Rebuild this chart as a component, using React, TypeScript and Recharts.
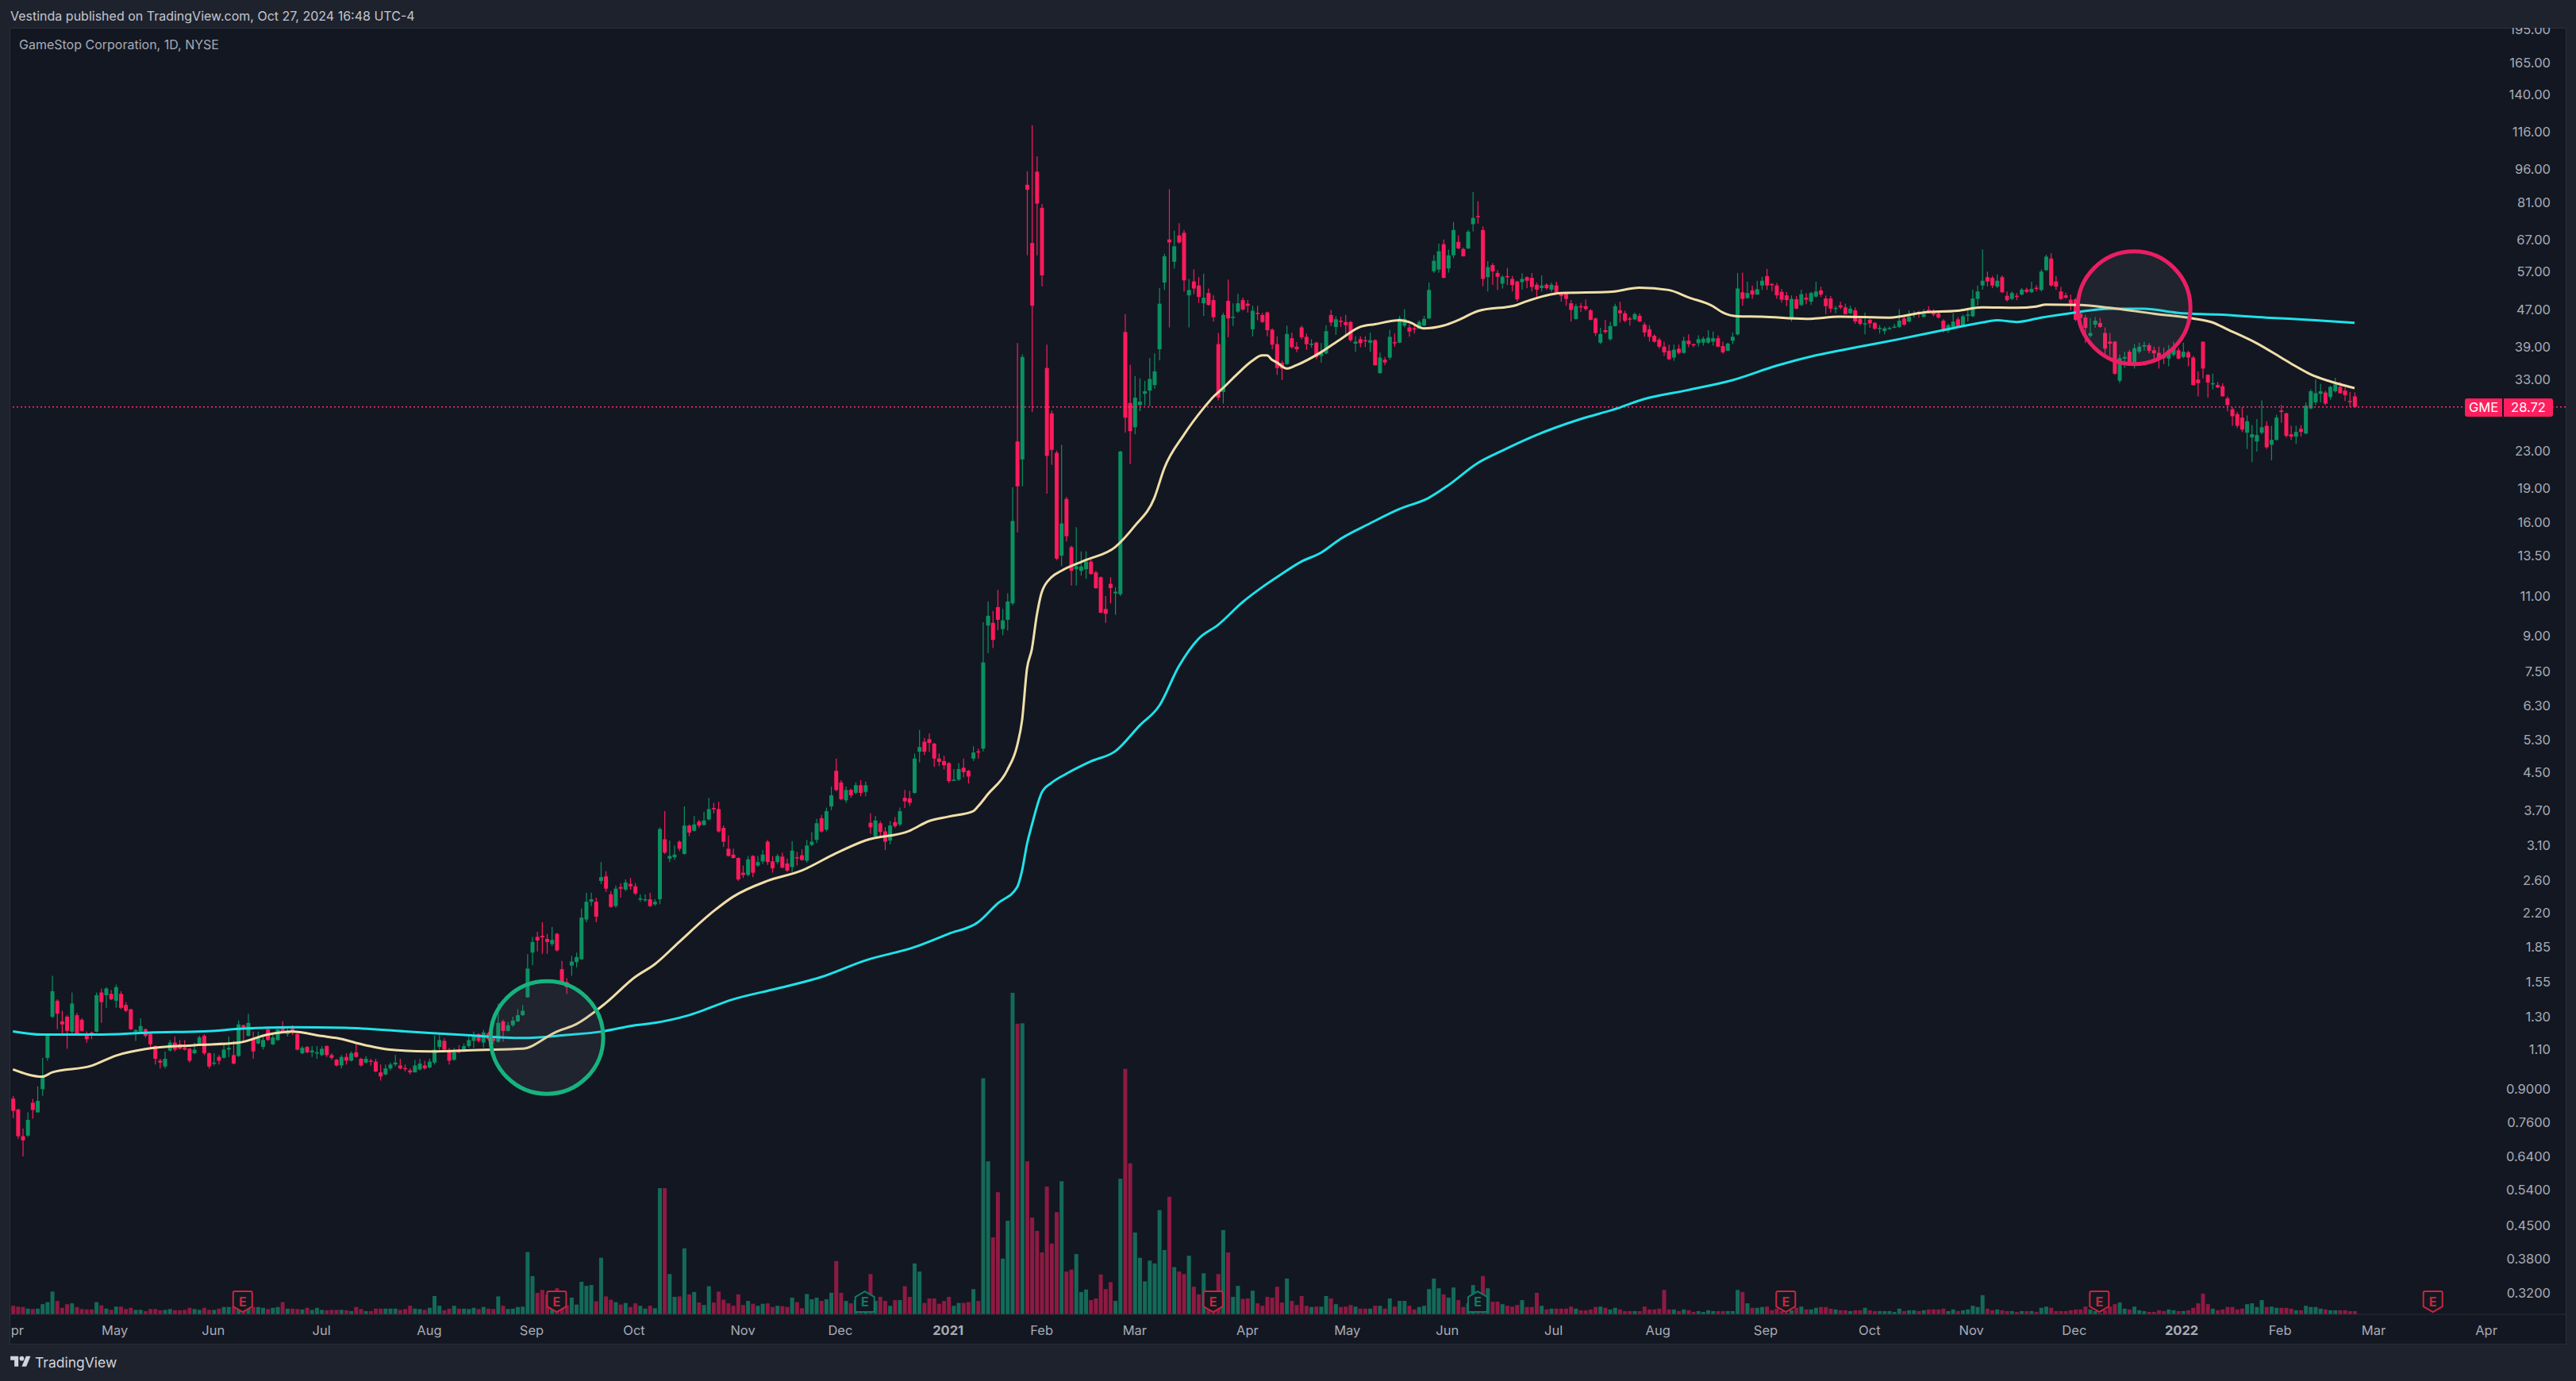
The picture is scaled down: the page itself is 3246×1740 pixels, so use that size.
import { ComposedChart, Bar, Line, XAxis, YAxis, ReferenceLine, ReferenceDot } from 'recharts';

// [open, high, low, close]
const candlesSpring2020 = [
  [.858,.87,.777,.806],[.812,.815,.70,.709],[.709,.737,.64,.694],[.711,.80,.706,.77],[.84,.857,.775,.81],
  [.80,.913,.80,.848],[.90,1.055,.87,.96],[1.055,1.19,1.04,1.18],[1.30,1.60,1.29,1.48],[1.41,1.42,1.22,1.32],
  [1.27,1.34,1.19,1.25],[1.30,1.31,1.105,1.21],[1.205,1.47,1.19,1.39],[1.31,1.325,1.18,1.19],[1.28,1.29,1.205,1.21],
  [1.18,1.205,1.14,1.16],[1.20,1.205,1.16,1.195],[1.205,1.47,1.20,1.45],[1.47,1.50,1.26,1.40],[1.45,1.51,1.36,1.50],
  [1.46,1.49,1.415,1.42],[1.41,1.53,1.36,1.51],[1.46,1.48,1.35,1.36],[1.38,1.40,1.33,1.34],[1.35,1.354,1.215,1.22],
  [1.205,1.22,1.15,1.215],[1.205,1.29,1.195,1.24],[1.22,1.225,1.17,1.18],[1.19,1.20,1.11,1.13],[1.12,1.125,1.02,1.05],
  [1.04,1.05,1.0,1.03],[1.01,1.09,1.0,1.05],[1.095,1.155,1.09,1.14],[1.14,1.175,1.09,1.10],[1.13,1.155,1.10,1.105],
  [1.11,1.155,1.095,1.10],[1.105,1.11,1.03,1.04],[1.08,1.14,1.075,1.10],[1.135,1.18,1.13,1.17],[1.18,1.19,1.07,1.08],
  [1.08,1.085,1.0,1.01],[1.025,1.08,1.015,1.03],[1.06,1.07,1.02,1.04],[1.056,1.13,1.05,1.10],[1.10,1.175,1.06,1.11],
  [1.07,1.15,1.02,1.025],[1.065,1.275,1.06,1.25],[1.245,1.25,1.14,1.23],[1.18,1.32,1.175,1.26],[1.165,1.205,1.05,1.09],
  [1.135,1.205,1.13,1.17],[1.115,1.175,1.10,1.155],[1.22,1.225,1.15,1.155],[1.13,1.19,1.125,1.17],[1.155,1.22,1.15,1.22],
  [1.235,1.27,1.20,1.205],[1.19,1.225,1.175,1.21],[1.225,1.245,1.185,1.205],[1.19,1.195,1.095,1.10],[1.08,1.12,1.075,1.11],
  [1.115,1.12,1.08,1.085],[1.085,1.12,1.06,1.095],[1.08,1.12,1.05,1.085],[1.07,1.12,1.065,1.105],[1.12,1.125,1.06,1.07],
  [1.07,1.08,1.045,1.055],[1.045,1.05,1.01,1.015],[1.015,1.07,1.0,1.06],[1.06,1.08,1.02,1.04],[1.04,1.09,1.035,1.08],
  [1.085,1.13,1.055,1.06],[1.05,1.055,1.01,1.015],[1.03,1.065,1.025,1.05],[1.04,1.05,1.015,1.035],[1.035,1.05,.98,.985],
  [.98,1.02,.94,.96],[.97,1.02,.965,1.0],[1.0,1.03,.99,1.02],[1.02,1.07,1.01,1.03],[1.015,1.05,.995,1.0],
  [1.002,1.02,.985,1.0],[.99,1.0,.97,.98],[.98,1.045,.98,1.015],[.995,1.05,.99,1.025],[1.015,1.04,.995,1.0],
  [1.005,1.05,1.0,1.035],[1.03,1.18,1.02,1.10],[1.115,1.19,1.10,1.155],[1.15,1.165,1.09,1.10],[1.09,1.11,1.02,1.04],
  [1.045,1.11,1.04,1.085],[1.10,1.125,1.08,1.085],[1.09,1.135,1.085,1.12],[1.12,1.175,1.11,1.155],[1.15,1.205,1.11,1.18],
  [1.19,1.195,1.14,1.15],[1.14,1.215,1.11,1.20],[1.195,1.205,1.15,1.16],[1.165,1.175,1.13,1.15],[1.145,1.39,1.14,1.26],
  [1.27,1.28,1.145,1.21],[1.21,1.265,1.205,1.245],[1.245,1.30,1.235,1.275],[1.27,1.35,1.265,1.31],[1.31,1.38,1.305,1.34],
  [1.435,1.785,1.43,1.66],[1.80,1.95,1.69,1.90],[1.95,2.0,1.81,1.915],[1.96,2.10,1.79,1.945],[1.93,1.98,1.79,1.90],
  [1.88,2.05,1.86,1.92],[1.98,1.99,1.81,1.82],[1.655,1.725,1.54,1.545],[1.55,1.58,1.46,1.51],[1.685,1.77,1.60,1.72],
  [1.715,1.80,1.67,1.76],[1.74,2.25,1.735,2.15],[2.13,2.44,2.10,2.33],[2.33,2.44,2.28,2.36],[2.33,2.38,2.1,2.16],
  [2.59,2.85,2.55,2.64],[2.65,2.72,2.45,2.49],[2.42,2.46,2.26,2.27],[2.28,2.53,2.26,2.49],[2.51,2.56,2.38,2.49],
  [2.48,2.61,2.46,2.57],[2.55,2.63,2.48,2.52],[2.52,2.56,2.41,2.43],
];

const candlesFall2020 = [
  [2.36,2.42,2.33,2.37],[2.35,2.42,2.33,2.36],[2.36,2.44,2.27,2.28],[2.30,2.36,2.28,2.33],[2.36,3.40,2.30,3.37],
  [3.20,3.69,2.97,2.99],[2.90,3.18,2.85,2.94],[2.92,3.10,2.88,2.96],[3.16,3.18,3.01,3.05],[2.97,3.78,2.96,3.43],
  [3.43,3.45,3.25,3.31],[3.34,3.60,3.33,3.45],[3.50,3.53,3.39,3.43],[3.44,3.68,3.43,3.52],[3.54,3.95,3.52,3.73],
  [3.75,3.85,3.65,3.73],[3.73,3.87,3.31,3.33],[3.39,3.43,3.08,3.16],[3.05,3.26,2.93,2.94],[2.96,3.05,2.90,2.91],
  [2.91,2.92,2.59,2.61],[2.70,2.80,2.63,2.67],[2.67,2.94,2.65,2.89],[2.94,2.95,2.64,2.70],[2.80,2.94,2.78,2.85],
  [2.86,3.03,2.82,2.96],[3.16,3.19,2.81,2.85],[2.86,2.94,2.70,2.76],[2.85,2.97,2.82,2.94],[2.93,2.99,2.76,2.77],
  [2.83,2.90,2.71,2.73],[2.78,3.17,2.71,3.02],[2.92,3.0,2.80,2.91],[2.95,3.04,2.87,2.88],[2.87,3.19,2.84,3.10],
  [3.11,3.32,3.09,3.16],[3.19,3.55,3.14,3.47],[3.56,3.62,3.31,3.33],[3.36,3.76,3.33,3.69],[3.78,4.18,3.71,4.0],
  [4.53,4.82,4.08,4.11],[4.27,4.32,3.90,3.92],[3.90,4.18,3.85,4.11],[4.11,4.14,3.95,4.0],[4.05,4.27,4.02,4.21],
  [4.21,4.32,3.98,4.05],[4.07,4.29,3.98,4.21],[3.48,3.65,3.29,3.40],[3.25,3.60,3.23,3.52],[3.47,3.51,3.24,3.32],
  [3.33,3.40,3.03,3.16],[3.18,3.51,3.12,3.43],[3.49,3.58,3.39,3.42],[3.45,3.76,3.42,3.69],[3.95,4.11,3.75,3.88],
  [3.94,4.09,3.79,3.85],[4.05,4.94,4.03,4.82],[4.99,5.57,4.73,5.11],[5.25,5.35,4.91,4.99],[5.32,5.47,4.99,5.22],
  [5.20,5.22,4.62,4.82],[4.82,4.95,4.64,4.74],[4.76,4.89,4.56,4.66],[4.71,4.73,4.26,4.30],[4.32,4.57,4.30,4.33],
  [4.33,4.71,4.30,4.57],[4.60,4.82,4.38,4.50],[4.53,4.55,4.25,4.40],[4.82,5.13,4.76,4.97],[5.0,5.07,4.82,4.98],
];

const candlesSqueeze2021 = [
  [5.07,9.63,5.0,7.85],[9.47,10.7,8.23,9.95],[9.60,10.2,8.45,8.80],[10.4,11.35,9.25,9.75],[9.30,10.3,9.02,9.72],
  [9.75,11.15,9.23,10.7],[10.6,19.1,10.5,16.1],[24.1,39.7,15.2,19.2],[22,37.5,19.2,37],[88.7,95,62,86.5],
  [66,120,28,48],[94.8,102.5,62,80.6],[78.9,80.5,53,56],[35,39.4,18.5,22.4],[27.8,28.2,21.4,23.1],
  [22.75,23,13.2,13.3],[13.5,23.7,12.8,15.9],[18,18.2,14.5,14.9],[14.1,14.2,11.6,12.5],[12.6,15.6,11.6,12.8],
  [12.5,13.8,12.2,12.78],[12.6,13.8,12.0,13.1],[13.1,13.3,12.25,12.3],[12.4,12.5,11.4,11.45],[12.1,12.15,10.1,10.1],
  [10.3,11,9.6,10.05],[11.7,12.1,10.6,11.45],[11.15,11.5,10,11.24],[11.1,23,11,22.9],[42,46,25.2,27.2],
  [29.3,35.6,21.5,25.4],[25.9,33.6,25,30.1],[29,33.2,28.1,29.5],[30.7,32.8,28.9,31.1],[31.2,36.8,28.8,33.1],
  [32.1,37.7,31.5,34.4],[38.5,52.5,36.4,48.5],[54,62.5,52,61.7],[67.2,86.7,43,66.2],[60,70.3,58,64.9],
  [68.6,73,65.8,66.2],[69.5,70.5,51.6,54.6],[50.6,55,43,52],[54.3,57.7,50.9,52.4],[53.2,55.5,48.7,50.2],
  [48.6,56.5,45.6,50],[51.2,52.4,48,48.2],[49.4,50.7,44.3,45.3],[39.5,41.8,29.7,30.1],[31,46.3,29.2,45.8],
  [49.2,54.8,40.9,45],[45.2,48.6,43.3,45.4],[46.6,51,46.3,48.6],[49.4,50,46.8,47.1],[48.5,49.4,46.4,48],
  [42.6,48,41.1,46.8],[46.3,48,44.6,46.1],[45.8,46.3,44,44.2],[46.4,46.6,41.1,42.4],[42.5,42.8,38.5,39.4],
  [39.5,41.1,33.8,35],[35.9,36.3,32.9,34.9],[35.7,43.4,35.6,41.6],[40.7,41.9,38.6,38.9],[39,39.9,37.9,38.5],
  [43,43.4,40.5,40.9],[41,41.7,38.4,39.5],[39.5,40.5,38.8,39.6],[39.8,40,36.6,37],[37.2,39.7,36,37.8],
  [37.7,43.5,37.5,42.2],[45.8,47,43.3,44.1],[43.1,45.5,41.4,44.8],[44.5,45.4,43.1,44.3],[44.2,45.8,41.1,43.5],
  [44.2,44.4,40,40.3],[39.6,41.1,38,40],[40.5,41.1,38.9,39.7],[40.3,41.1,38.9,40.1],[39.8,41.9,38,40.3],
  [40.3,40.5,35.4,35.5],[34.1,37.8,34,36.9],[36.5,37,35.5,36],[36.9,42.5,36.5,41],[39.9,41.7,39,39.7],
  [39.8,45.6,39.7,45],[43.4,47.2,43,44.9],[43,43.7,41,42.1],[42.8,43.4,41.7,42.6],[42.7,44.6,42.6,44.2],
  [43.4,45.6,43.3,44.9],[45,54,44.9,52],[57.2,62.1,56.7,60.3],[57.7,65.8,56.8,63.3],[65.6,67.2,55.2,55.3],
  [58,63.8,56.8,62],[62,73.4,61.1,70.5],[66.4,68.6,64,64.2],[64,64.5,61.6,61.7],[64.2,70.5,64,69.9],
  [72.6,85.5,70,75],[75.7,81.6,72.8,75.5],[70.5,71.8,53,55],[55.5,60.2,51.6,58.4],[59,59.6,53.4,57.1],
  [56.7,57.5,52,55.6],[53.7,56.1,52.4,55.6],
];

const candlesSummer2021 = [
  [55.8,58.2,53.3,55.6],[55,55.8,51.6,53.3],[54.3,54.5,49,49.6],[54.1,56.6,52.1,55],[55.5,55.7,52.5,54.5],
  [55.3,56.7,51.6,52.8],[53.4,54,49.9,52.1],[52.5,56,51.6,53.2],[53.4,53.8,52.1,52.5],[52.1,54,51.5,53.4],
  [53.2,54.2,50.8,50.9],[50.9,51.2,49,50.4],[51,51.4,48,49.7],[48.6,49.4,44.3,47],[44.9,48.5,44.7,47.9],
  [47.9,48.7,46.5,47.7],[47.9,49.5,46.8,47.2],[46.9,47.2,44.6,44.7],[45,45.2,41.2,41.8],[39.8,42.9,39.5,41.6],
  [42.4,44.7,41.7,42],[40.5,44.2,40.2,43.3],[43.3,48.5,43.2,47.9],[46.9,49,44.1,46.2],[46.2,46.8,44.1,44.5],
  [45,45.4,43.4,44.8],[44.8,46.4,44.6,46],[45.6,46.2,44.2,44.3],[43.6,44.1,41,41.9],[42.6,43.5,40,41],
  [41.2,41.5,39.8,40],[40.4,40.8,38.6,39],[39,40,37.2,37.9],[38.2,39.4,36.4,36.6],[36.9,39.4,36.3,38.4],
  [38.6,39.4,37.5,37.8],[37.8,41,37.6,40.2],[40.2,41.5,38.9,39.5],[39.5,39.6,38.9,39.4],[39.7,41.3,39,40.5],
  [39.8,41,39.2,40.6],[39.8,42.4,39.6,40.8],[40,42.1,39.2,40.7],[40.7,41.3,38.9,39],[39.1,40,37.6,37.9],
  [38.2,39.8,38.1,39.6],[40.2,41.9,39.5,41],[41.5,56.7,41.3,52.4],[51.4,56.8,48,49.7],[49.9,54.2,49.7,51.2],
  [51.9,53.2,49.7,50.8],[50.8,54.5,50.8,52.2],[53.2,55.6,52,54.5],[55.8,57.9,52,53.2],[53.6,53.9,51.7,53.4],
  [53.2,53.9,49.7,50.6],[51.5,52.3,48.8,49.5],[50.6,51.5,47.9,49.4],[45,50.6,44.3,49.7],[49.6,50.4,47.2,47.3],
  [48.2,52.1,47.9,50.9],[50,51.2,48.4,49.5],[49,51.5,48.2,51.2],[50.3,54.2,50,51.6],[51.9,52.9,50.2,50.8],
  [49.8,50.6,46,47.9],[49.8,50.4,46.4,47.3],[47.4,48,46.2,47.5],[48.1,49,47.2,47.6],[47.6,48.5,45.9,46],
  [46.2,48,46,47.3],[46.9,47.6,43.8,44.3],[44.9,45.2,43.4,43.8],[43.7,46.4,41.5,43.9],[44.7,44.9,42.9,43.9],
  [44,44.2,42.5,42.7],[42.7,43.5,41.7,42.9],[42.2,43.2,41.5,42.8],[42.7,43.2,42.5,42.9],[43,43.8,42.8,43.2],
  [43.1,47.2,42.9,44.5],[45,45.5,43.4,43.6],[44.3,46.9,44.1,45.4],[45.9,46.8,45.2,46.1],[46.5,46.8,45.2,46.3],
  [45.4,47.2,45.2,46],[47,47.9,46.2,46.5],[46.5,47.2,45.5,45.9],[46.2,46.8,45,45.2],[44.5,44.8,41.9,42.4],
  [42.3,43.8,41.8,43.5],[43.1,46.2,42.9,44.3],[44.8,45.3,42.9,43.2],[43.4,45.9,43.2,45.5],[45.7,47.2,44.3,45.9],
  [45.5,52.1,45.3,49.8],[49.7,53.2,48,51.6],[53.2,63.8,52.1,54.5],[55.5,57.1,52.9,54.3],[55.3,55.8,52.5,53.2],
  [52.9,56.3,52.5,54.5],[55.5,56,51.2,51.4],[50.5,51.6,49,49.4],[49.7,51.6,49.4,51.2],[50.5,51.2,49.4,50.3],
  [50.8,52.5,50.6,52.1],[52.1,52.6,51.2,51.5],[51.4,54.2,51.2,52.3],[52.6,53.3,51.7,52.4],[52,57.7,51.6,57.1],
  [57.5,62.2,57.3,61.6],[61,62.7,52.9,53.2],[54.3,55.8,52,52.9],[51.6,52.8,49.4,49.7],
];

const candlesWinter2022 = [
  [50.6,51.3,49.7,50],[49.5,50.8,46.9,48.5],[49.6,49.9,44.4,44.7],[46.1,46.4,44.4,45.1],[45.2,45.8,39.7,42.9],
  [41.2,45.1,40.8,41.8],[43.6,45.3,42.9,44.5],[44,45.1,42.9,43.1],[41.8,43,37.5,38.6],[40,41.8,37.2,39.6],
  [40,40.1,33.8,34],[32.8,37.5,32.4,36.8],[36.7,38,35,37],[38,38.4,35.7,35.9],[35.4,39.5,34.9,38.7],
  [38,39.8,37.7,39],[39,40,38.2,39.3],[39.3,39.7,37.7,38.2],[38.3,39,36.2,37.7],[37.8,39,34.9,36.7],
  [37.1,38.8,35.7,36.8],[36.7,39.3,35.3,38.3],[37.4,40,37.1,38.6],[38.3,38.8,36.6,36.7],[37,39.8,36.8,38],
  [37.9,38.2,35.3,36.9],[36.9,37.2,32,32.1],[33,34.4,30.3,32.4],[40,40,33.2,34.9],[33.8,33.9,30.1,32.5],
  [32.2,34,31.4,32.4],[32.1,32.6,31.6,31.7],[31.9,32.4,30.3,30.3],[30,30.3,28.1,29],[28.4,28.7,26.1,27.4],
  [27.7,28,25.8,26.1],[27.2,28.7,25.3,25.6],[25.2,27.5,23.2,26.7],[24.6,26.2,21.7,25],[24.1,27,22.9,24.9],
  [25.2,29.7,25,25.9],[26.1,26.7,23.2,23.4],[23.7,26.1,21.9,24.3],[24.3,27.6,24.2,27.2],[28.2,29,26.5,28],
  [27.8,27.9,24.6,24.8],[25,26.1,24.3,24.7],[24.7,26.1,23.8,25.3],[25.7,26.2,24.7,25.3],[25.1,29.4,25,28.9],
  [28.5,31.4,28.4,31.1],[29.4,33,29,30.8],[30.7,32.3,29.4,31.1],[30.9,31.2,29,29.2],[30.2,32,29.8,31.8],
  [31.1,33.3,30.9,32.2],[31.8,32.6,30.7,30.8],[31.2,31.7,29.6,30.5],[29.6,31,28.7,29.5],[30.3,30.9,28.6,28.72],
];

const volumes2020 = [
  21,19,18,14,13,14,25,30,56,33, 16,25,27,18,13,12,12,30,22,14,
  11,19,19,13,16,11,11,8,13,13, 10,11,13,10,10,11,16,13,11,16,
  11,11,14,18,18,19,24,19,21,18, 18,16,13,16,18,30,14,14,13,12,
  16,11,16,11,10,11,11,11,10,8, 18,13,8,8,14,14,14,14,14,11,
  13,21,14,13,11,16,45,21,10,14, 21,14,14,13,16,13,18,14,13,44,
  21,13,14,18,19,153,94,53,60,48, 40,64,24,22,41,24,80,70,72,32,
  139,44,36,30,24,28,18,27, 21,14,21,15,
  310,310,99,43,44,162,49,55,29,23, 69,29,56,36,27,21,49,23,33,26,
  21,26,27,18,21,20,18,41,30,15, 50,37,41,33,37,53,131,53,33,27,
  35,30,50,99,33,43,33,21,35,35, 69,43,125,105,28,39,39,26,33,43,
  21,28,28,30,62,33,
];

const volumes2021 = [
  580,376,189,300,137,230,790,714,715,376, 238,205,152,314,174,251,327,105,110,148,
  55,61,35,39,98,62,79,33,333,603, 371,201,139,81,132,125,256,158,289,116,
  105,99,144,68,49,101,30,30,99,207, 152,43,70,38,39,58,27,21,43,41,
  68,29,88,33,23,45,21,18,19,19, 45,39,25,18,19,23,19,14,14,14,
  21,21,14,39,19,33,33,21,12,18, 21,62,88,64,49,41,66,35,18,27,
  72,20,94,64,31,31,25,21,19,23, 35,18,18,53,21,12,14,14,14,14,
  19,14,10,10,12,18,19,16,12,16, 12,8,8,8,8,19,12,12,14,60,
  12,12,8,12,10,6,8,6,10,8, 8,8,8,8,60,55,27,16,16,18,
  19,10,14,8,4,10,16,19,12,12, 16,18,18,14,12,10,10,8,10,10,
  16,10,8,8,8,8,6,14,8,10, 10,8,10,12,12,12,14,8,12,8,
  10,12,21,18,47,14,10,12,10,8, 8,6,8,8,8,6,16,19,16,8,
  8,8,
];

const volumes2022 = [
  10,12,12,19,12,8,3,10,19,25, 29,14,12,19,10,8,6,6,10,8,
  12,10,8,8,10,16,27,51,25,14, 10,12,18,18,12,14,25,27,18,35,
  18,19,16,16,16,14,10,10,21,18, 18,14,12,10,10,10,10,8,8,
];

// moving averages at a handful of bars, [bar, value]
const sma50Points = [
  [0,.995],[6,.959],[8,.98],[16,1.013],[21,1.067],[27,1.103],[37,1.125],[46,1.139],[52,1.187],[57,1.205],
  [63,1.179],[66,1.167],[72,1.125],[77,1.10],[85,1.09],[95,1.098],[104,1.105],[111,1.205],[115,1.252],[121,1.393],
  [127,1.59],[131,1.696],[136,1.90],[143,2.22],[147,2.39],[154,2.59],[161,2.73],[168,2.98],[174,3.18],[183,3.34],
  [187,3.51],[191,3.59],[196,3.69],[197,3.78],[199,4.02],[203,4.55],[205,5.15],[206,5.85],[207,7.6],[208,8.4],
  [209,9.96],[210,11.2],[212,12.1],[214,12.5],[219,13.2],[225,14.1],[229,15.7],[233,18.1],[235,21],[239,24.9],
  [243,28.5],[245,30.2],[247,31.6],[250,34],[253,36.3],[255,37.3],[256,37.3],[257,36.5],[258,36],[260,34.9],
  [262,35.5],[267,37.9],[271,40.5],[275,43.1],[278,43.7],[283,44.6],[285,44.2],[288,42.8],[292,43.4],[295,44.6],
  [299,46.7],[307,48.2],[309,49.1],[316,51.2],[326,51.5],[332,52.6],[338,52],[342,50.1],[347,47.9],[349,46.4],
  [352,45.5],[357,45.4],[366,44.9],[373,45.4],[383,45.2],[390,46.4],[397,46.8],[402,47.6],[409,47.5],[413,47.8],
  [415,48.3],[422,48.2],[428,47.5],[437,46.1],[445,45],[449,44.1],[452,42.6],[458,39.7],[463,36.9],[466,35.3],
  [469,33.9],[473,32.7],[478,31.6],
];

const sma200Points = [
  [0,1.207],[6,1.187],[17,1.187],[28,1.2],[39,1.207],[47,1.224],[57,1.233],[68,1.229],[80,1.207],[92,1.185],
  [104,1.167],[113,1.185],[120,1.205],[127,1.245],[131,1.26],[138,1.31],[147,1.42],[156,1.50],[165,1.59],[174,1.73],
  [184,1.85],[191,1.98],[197,2.10],[201,2.31],[205,2.51],[206,2.73],[207,3.12],[208,3.44],[210,4.05],[212,4.26],
  [215,4.46],[220,4.75],[225,5.0],[230,5.7],[234,6.3],[238,7.7],[242,8.85],[246,9.5],[251,10.66],[255,11.5],
  [258,12.1],[263,13.1],[267,13.7],[271,14.7],[277,15.9],[283,17.1],[289,18.1],[293,19.3],[299,21.6],[304,23],
  [311,24.9],[320,27],[327,28.4],[333,29.9],[342,31.3],[351,32.9],[360,35.4],[368,37.3],[377,39],[385,40.5],
  [394,42.4],[402,44.1],[405,44.6],[409,44.2],[414,45.2],[421,46.4],[428,47.3],[435,47.3],[442,46.3],[450,45.9],
  [460,45.2],[470,44.6],[478,44],
];

const priceTicks = [
  195,165,140,116,96,81,67,57,47,39,33,23,19,16,13.5,11,9,7.5,6.3,5.3,4.5,3.7,3.1,2.6,2.2,1.85,1.55,1.3,1.1,
  .9,.76,.64,.54,.45,.38,.32,
];

const monthTicks = [.9,20.8,40.9,63,85,105.9,126.8,149,168.9,190.9,210,229,252,272.4,292.8,314.5,335.8,357.8,379,399.8,420.8,442.7,462.8,481.9,504.9];
const monthLabels = ['pr','May','Jun','Jul','Aug','Sep','Oct','Nov','Dec','2021','Feb','Mar','Apr','May','Jun','Jul','Aug','Sep','Oct','Nov','Dec','2022','Feb','Mar','Apr'];

const earningsBars = [46.9,111,173.9,245,299,361.9,425.9,494];
const earningsBeat = [false,false,true,false,true,false,false,false];

const lastPrice = 28.72;
const UP = '#0a9160';
const DOWN = '#fe1a5c';
const FONT = 'Inter, "Noto Sans", sans-serif';

const candles = [...candlesSpring2020, ...candlesFall2020, ...candlesSqueeze2021, ...candlesSummer2021, ...candlesWinter2022];
const volumes = [...volumes2020, ...volumes2021, ...volumes2022];
const sma50 = new Map(sma50Points.map(([i, v]) => [i, v]));
const sma200 = new Map(sma200Points.map(([i, v]) => [i, v]));

const data = candles.map(([o, h, l, c], i) => ({
  i,
  o,
  h: Math.max(h, o, c),
  l: Math.min(l, o, c),
  c,
  vol: volumes[i],
  sma50: sma50.get(i) ?? null,
  sma200: sma200.get(i) ?? null,
}));

function Candle(props: any) {
  const { x, y, width, height, payload } = props;
  const { o, h, l, c } = payload;
  const mid = x + width / 2;
  // body ends sit on the same log scale as the high-low range that the bar was given
  const span = Math.log(h / l) || 1;
  const yOf = (p: number) => y + (height * Math.log(h / p)) / span;
  const top = yOf(Math.max(o, c));
  const bottom = yOf(Math.min(o, c));
  const color = c >= o ? UP : DOWN;
  return (
    <g>
      <line x1={mid} x2={mid} y1={y} y2={y + height} stroke={color} strokeWidth={1.2} />
      <rect x={x} y={top} width={width} height={Math.max(bottom - top, 1.5)} fill={color} />
    </g>
  );
}

function VolumeBar(props: any) {
  const { x, y, width, height, payload } = props;
  return <rect x={x} y={y} width={width} height={height} fill={payload.c >= payload.o ? '#146a58' : '#8e1a42'} />;
}

function MonthTick(props: any) {
  const { x, y, payload } = props;
  const label = monthLabels[monthTicks.indexOf(payload.value)];
  const year = label === '2021' || label === '2022';
  return (
    <text x={x} y={y + 18} textAnchor="middle" fontFamily={FONT} fontSize={16.5} fontWeight={year ? 700 : 400} fill="#a8abb4">
      {label}
    </text>
  );
}

function EarningsMark(props: any) {
  const { cx, cy, beat } = props;
  const color = beat ? '#0f7a66' : '#c9263c';
  const w = 12;
  const h = 13;
  const path = beat
    ? `M${cx} ${cy - h} L${cx + w} ${cy - h + 7} V${cy + h - 2} Q${cx + w} ${cy + h} ${cx + w - 2} ${cy + h} H${cx - w + 2} Q${cx - w} ${cy + h} ${cx - w} ${cy + h - 2} V${cy - h + 7} Z`
    : `M${cx - w + 2} ${cy - h} H${cx + w - 2} Q${cx + w} ${cy - h} ${cx + w} ${cy - h + 2} V${cy + h - 7} L${cx} ${cy + h} L${cx - w} ${cy + h - 7} V${cy - h + 2} Q${cx - w} ${cy - h} ${cx - w + 2} ${cy - h} Z`;
  return (
    <g>
      <path d={path} fill="#131722" stroke={color} strokeWidth={2} />
      <text x={cx} y={cy + 6} textAnchor="middle" fontFamily={FONT} fontSize={16} fontWeight={700} fill={color}>
        E
      </text>
    </g>
  );
}

export default function App() {
  return (
    <div style={{ position: 'absolute', left: 0, top: 0, width: 3246, height: 1740, background: '#1e222d', overflow: 'hidden', fontFamily: FONT }}>
      <div style={{ position: 'absolute', left: 12, top: 35, width: 3220, height: 1657, background: '#131722', border: '1px solid #2a2e39' }} />
      <div style={{ position: 'absolute', left: 0, top: 0 }}>
        <ComposedChart width={3246} height={1740} data={data} margin={{ top: 36, right: 13, bottom: 48, left: 13 }}>
          <XAxis
            xAxisId="p"
            dataKey="i"
            type="number"
            domain={[-0.53, 521.1]}
            allowDataOverflow
            ticks={monthTicks}
            interval={0}
            height={36}
            tick={MonthTick}
            tickLine={false}
            axisLine={{ stroke: '#2a2e39' }}
          />
          <XAxis xAxisId="v" dataKey="i" type="number" domain={[-0.53, 521.1]} allowDataOverflow hide />
          <YAxis
            yAxisId="p"
            orientation="right"
            mirror
            scale="log"
            domain={[0.287, 196]}
            allowDataOverflow
            ticks={priceTicks}
            interval={0}
            tickFormatter={(v: number) => (v < 1 ? v.toFixed(4) : v.toFixed(2))}
            tick={{ fontSize: 16.5, fill: '#a8abb4', fontFamily: FONT }}
            tickLine={false}
            axisLine={false}
            tickMargin={13}
          />
          <YAxis yAxisId="v" domain={[0, 3159]} allowDataOverflow hide />

          <Bar xAxisId="v" yAxisId="v" dataKey="vol" barSize={5} shape={VolumeBar} isAnimationActive={false} />
          <ReferenceLine xAxisId="p" yAxisId="p" y={lastPrice} stroke="#ff2d6a" strokeWidth={1.5} strokeDasharray="2 3" />
          <Bar xAxisId="p" yAxisId="p" dataKey={(d: any) => [d.l, d.h]} barSize={5} shape={Candle} isAnimationActive={false} />
          <Line xAxisId="p" yAxisId="p" dataKey="sma200" type="monotone" connectNulls stroke="#1ee3ea" strokeWidth={3} dot={false} isAnimationActive={false} />
          <Line xAxisId="p" yAxisId="p" dataKey="sma50" type="monotone" connectNulls stroke="#f0dfa8" strokeWidth={3} dot={false} isAnimationActive={false} />

          <ReferenceDot xAxisId="p" yAxisId="p" x={109} y={1.17} r={71} fill="rgba(120,130,150,0.12)" stroke="#16b37e" strokeWidth={5} />
          <ReferenceDot xAxisId="p" yAxisId="p" x={433} y={47.5} r={71} fill="rgba(120,130,150,0.12)" stroke="#e91e63" strokeWidth={5} />
          {earningsBars.map((bar, k) => (
            <ReferenceDot
              key={bar}
              xAxisId="p"
              yAxisId="p"
              x={bar}
              y={0.306}
              r={12}
              shape={(p: any) => <EarningsMark {...p} beat={earningsBeat[k]} />}
            />
          ))}
        </ComposedChart>
      </div>

      <div style={{ position: 'absolute', left: 0, top: 0, width: 3246, height: 35, background: '#1e222d' }} />
      <div style={{ position: 'absolute', left: 13, top: 10, fontSize: 16, color: '#c3c6ce', whiteSpace: 'nowrap' }}>
        Vestinda published on TradingView.com, Oct 27, 2024 16:48 UTC-4
      </div>
      <div style={{ position: 'absolute', left: 24, top: 46, fontSize: 16, color: '#a8abb4', whiteSpace: 'nowrap' }}>
        GameStop Corporation, 1D, NYSE
      </div>

      <div style={{ position: 'absolute', left: 3106, top: 502, width: 47, height: 23, background: '#ff1f5e', color: '#fff', borderRadius: '3px 0 0 3px', fontSize: 16.5, lineHeight: '23px', textAlign: 'center' }}>
        GME
      </div>
      <div style={{ position: 'absolute', left: 3155, top: 502, width: 62, height: 23, background: '#ff1f5e', color: '#fff', borderRadius: '0 3px 3px 0', fontSize: 16.5, lineHeight: '23px', textAlign: 'center' }}>
        28.72
      </div>

      <svg style={{ position: 'absolute', left: 13, top: 1706 }} width={26} height={20} viewBox="0 0 36 28" fill="#d1d4dc">
        <path d="M14 22H7V11H0V4h14v18zM28 22h-8l7.5-18h8L28 22z" />
        <circle cx={20} cy={8} r={4} />
      </svg>
      <div style={{ position: 'absolute', left: 44, top: 1706, fontSize: 17.5, color: '#d1d4dc', whiteSpace: 'nowrap' }}>TradingView</div>
    </div>
  );
}
